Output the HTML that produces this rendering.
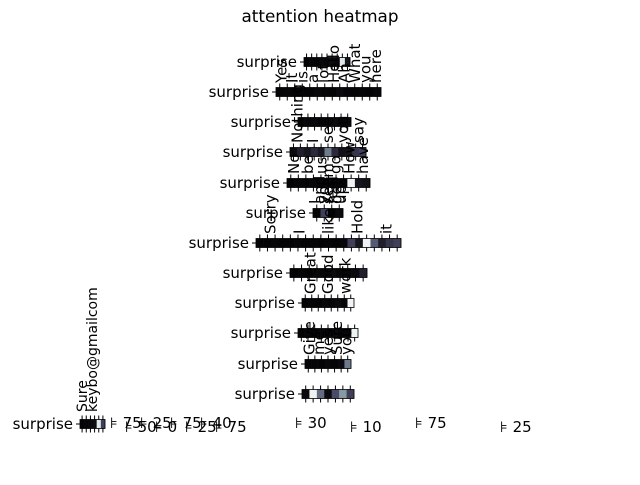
<!DOCTYPE html>
<html><head><meta charset="utf-8"><style>
body{margin:0;background:#fff;width:640px;height:480px;overflow:hidden}
svg{font-family:"DejaVu Sans","Liberation Sans",sans-serif}
</style></head><body>
<svg id="c" width="640" height="480">
<text x="320" y="22" font-size="16.8" text-anchor="middle">attention heatmap</text>
</svg>
<script>
const rowLabels=["surprise","surprise","surprise","surprise","surprise","surprise","surprise","surprise","surprise","surprise","surprise","surprise","surprise"];
const rowValues=[
 [0.02,0.03,0.02,0.04,0.03,0.05,0.03,0.9,0.1],
 [0.02,0.03,0.02,0.03,0.02,0.04,0.03,0.02,0.05,0.03,0.02,0.03,0.02,0.04],
 [0.02,0.03,0.04,0.02,0.03,0.05,0.03,0.04],
 [0.05,0.15,0.1,0.2,0.12,0.5,0.2,0.08,0.1,0.25,0.3],
 [0.02,0.03,0.02,0.04,0.03,0.05,0.03,0.02,0.95,0.1,0.08],
 [0.02,0.3,0.02,0.05],
 [0.02,0.02,0.03,0.02,0.02,0.03,0.02,0.03,0.02,0.03,0.02,0.04,0.3,0.1,0.95,0.4,0.15,0.25,0.3],
 [0.02,0.03,0.02,0.04,0.03,0.05,0.03,0.04,0.05,0.15],
 [0.02,0.03,0.02,0.04,0.03,0.05,0.03,0.95],
 [0.02,0.03,0.02,0.04,0.03,0.05,0.03,0.04,0.95],
 [0.02,0.03,0.02,0.04,0.03,0.05,0.5],
 [0.05,0.95,0.45,0.05,0.35,0.6,0.3],
 [0.02,0.03,0.04,0.05,0.9,0.3]
];
const rowStart=[304,276,298,290,287,313,256,290,302,298,305,302,80];
const rowEnd=[350,381,351,366,370,343,401,367,354,358,351,354,105];
const rowY=[62,92,122,152,183,213,243,273,303,333,364,394,424];
const words=[["Yes","It","is","a","lot","Hello","Ah","What","you","here"],["Nothing","I","see","you","say"],["No","be","us","go","How","have"],["I","and","you","seem","feel","get","up"],["Sorry","I","like","Hold","it"],["Great","Good","work"],["Give","me","yes","Sure","you"]];
const wordRow=[1,3,4,5,6,8,10];
const junk=["75","50","25","0","75","25","40","75","30","10","75","25"];
const junkX=[110,125,140,155,170,185,200,215,295,350,415,500];
const svg=document.getElementById('c');
const NS='http://www.w3.org/2000/svg';
function color(v){const s=[[0,0,0],[70,70,100],[150,175,180],[255,255,255]];const t=Math.min(1,Math.max(0,v))*3;const i=Math.min(2,Math.floor(t));const f=t-i;return 'rgb('+s[i].map((c,k)=>Math.round(c+(s[i+1][k]-c)*f)).join(',')+')';}
function el(n,a){const e=document.createElementNS(NS,n);for(const k in a)e.setAttribute(k,a[k]);svg.appendChild(e);return e;}
rowValues.forEach((vals,r)=>{
 const x0=rowStart[r],x1=rowEnd[r],y=rowY[r],h=9,w=(x1-x0)/vals.length;
 const xs=i=>x0+i*w;
 vals.forEach((v,i)=>{
  const c=el('rect',{x:xs(i),y:y-h/2,width:w+0.3,height:h,fill:color(v)});
  
  
  el('line',{x1:xs(i)+w/2,x2:xs(i)+w/2,y1:y-h/2-4,y2:y-h/2,stroke:'#000','stroke-width':1});
  el('line',{x1:xs(i)+w/2,x2:xs(i)+w/2,y1:y+h/2,y2:y+h/2+4,stroke:'#000','stroke-width':1});
 });
 el('rect',{x:x0,y:y-h/2,width:x1-x0,height:h,fill:'none',stroke:'#000','stroke-width':0.8});
 el('line',{x1:x0-4,x2:x0,y1:y,y2:y,stroke:'#000'});
 const t=el('text',{x:x0-7,y:y+5,'font-size':15,'text-anchor':'end'});
 t.textContent=rowLabels[r];
 
 
});
words.forEach((ws,k)=>{
 const r=wordRow[k],x0=rowStart[r],w=(rowEnd[r]-x0)/rowValues[r].length;
 ws.forEach((wd,i)=>{
  const x=x0+(i+0.5)*w*rowValues[r].length/ws.length+5,y=rowY[r]-9;
  const t=el('text',{x:x,y:y,'font-size':15,transform:'rotate(-90 '+x+' '+y+')'});
  t.textContent=wd;
  
  
 });
});
const e=el('text',{x:87,y:412,'font-size':14,transform:'rotate(-90 87 412)'});e.textContent='Sure';


const e2=el('text',{x:97,y:412,'font-size':14,transform:'rotate(-90 97 412)'});e2.textContent='keybo@gmailcom';


junk.forEach((j,i)=>{
 const t=el('text',{x:junkX[i],y:428+(i%2)*4,'font-size':15});
 t.textContent='⊧ '+j;
 
 
});
</script>
</body></html>
